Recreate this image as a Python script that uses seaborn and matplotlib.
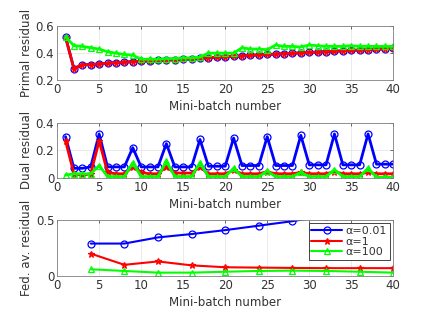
import matplotlib
matplotlib.use("Agg")
import matplotlib.pyplot as plt
import seaborn as sns
import numpy as np

# -------------------------------
# DATA
# -------------------------------
batches = list(range(1, 41))
fed_batches = [4, 8, 12, 16, 20, 24, 28, 32, 36, 40]
labels = ["α=0.01", "α=1", "α=100"]

primal_a001 = [0.52, 0.285, 0.315, 0.315, 0.32, 0.325, 0.33, 0.333, 0.337, 0.34,
               0.343, 0.346, 0.35, 0.352, 0.355, 0.358, 0.362, 0.366, 0.37, 0.373,
               0.377, 0.38, 0.384, 0.387, 0.39, 0.393, 0.396, 0.399, 0.402, 0.405,
               0.408, 0.411, 0.414, 0.417, 0.42, 0.423, 0.426, 0.429, 0.433, 0.437]
primal_a1 = [0.52, 0.285, 0.315, 0.315, 0.32, 0.325, 0.33, 0.333, 0.337, 0.34,
             0.343, 0.346, 0.35, 0.352, 0.355, 0.358, 0.362, 0.366, 0.37, 0.373,
             0.377, 0.38, 0.384, 0.387, 0.39, 0.393, 0.396, 0.399, 0.402, 0.405,
             0.408, 0.411, 0.414, 0.417, 0.42, 0.423, 0.426, 0.429, 0.433, 0.437]
primal_a100 = [0.52, 0.455, 0.45, 0.44, 0.43, 0.41, 0.40, 0.39, 0.385, 0.355,
               0.355, 0.355, 0.36, 0.36, 0.365, 0.365, 0.37, 0.40, 0.40, 0.40,
               0.40, 0.44, 0.43, 0.43, 0.425, 0.46, 0.45, 0.45, 0.445, 0.46,
               0.455, 0.45, 0.45, 0.45, 0.455, 0.45, 0.45, 0.45, 0.45, 0.45]

dual_a001 = [0.30, 0.07, 0.07, 0.08, 0.32, 0.08, 0.08, 0.08, 0.22, 0.08,
             0.08, 0.08, 0.25, 0.08, 0.08, 0.08, 0.28, 0.085, 0.085, 0.085,
             0.29, 0.09, 0.09, 0.09, 0.30, 0.09, 0.09, 0.09, 0.31, 0.095,
             0.095, 0.095, 0.32, 0.095, 0.095, 0.095, 0.32, 0.10, 0.10, 0.10]
dual_a1 = [0.27, 0.03, 0.02, 0.03, 0.27, 0.04, 0.03, 0.03, 0.08, 0.04,
           0.03, 0.03, 0.08, 0.035, 0.035, 0.035, 0.08, 0.03, 0.03, 0.03,
           0.055, 0.03, 0.03, 0.03, 0.045, 0.03, 0.03, 0.03, 0.04, 0.03,
           0.03, 0.03, 0.045, 0.03, 0.03, 0.03, 0.04, 0.03, 0.03, 0.03]
dual_a100 = [0.02, 0.03, 0.03, 0.03, 0.09, 0.01, 0.01, 0.01, 0.11, 0.01,
             0.01, 0.01, 0.12, 0.01, 0.01, 0.01, 0.11, 0.01, 0.01, 0.01,
             0.07, 0.01, 0.01, 0.01, 0.05, 0.01, 0.01, 0.01, 0.04, 0.01,
             0.01, 0.01, 0.06, 0.01, 0.01, 0.01, 0.07, 0.005, 0.005, 0.005]

fed_a001 = [0.29, 0.29, 0.345, 0.375, 0.41, 0.45, 0.49, 0.54, 0.58, 0.62]
fed_a1 = [0.20, 0.10, 0.13, 0.095, 0.078, 0.075, 0.072, 0.07, 0.07, 0.07]
fed_a100 = [0.06, 0.045, 0.03, 0.03, 0.038, 0.045, 0.048, 0.045, 0.038, 0.03]

colors = ["#0000ff", "#ff0000", "#00ff00"]
markers = ["o", "*", "^"]

# -------------------------------
# STYLE
# -------------------------------
sns.set_style("white")
plt.rcParams["font.family"] = ["DejaVu Sans"]
plt.rcParams["font.size"] = 8
txt = "#333333"

fig = plt.figure(figsize=(4.36, 3.27), dpi=100)
left, width = 0.131, 0.771
ax1 = fig.add_axes([left, 0.755, width, 0.165])
ax2 = fig.add_axes([left, 0.456, width, 0.168])
ax3 = fig.add_axes([left, 0.156, width, 0.171])


def draw(ax, x, series, lw=2.0, ms=5):
    for y, c, m, lab in zip(series, colors, markers, labels):
        sns.lineplot(x=x, y=y, ax=ax, color=c, marker=m, linewidth=lw,
                     markersize=ms, markerfacecolor="none", markeredgecolor=c,
                     markeredgewidth=0.9, label=lab, legend=False)


def style(ax, ylim, yticks, ylabel):
    ax.set_xlim(0, 40)
    ax.set_ylim(*ylim)
    ax.set_xticks(range(0, 41, 5))
    ax.set_yticks(yticks)
    ax.set_yticklabels([f"{t:g}" for t in yticks])
    ax.grid(True, color="#e6e6e6", linewidth=0.6)
    ax.set_axisbelow(True)
    ax.tick_params(direction="in", length=2.5, colors=txt, labelsize=8.5,
                   pad=2, width=0.5, top=True, right=True)
    for s in ax.spines.values():
        s.set_color("#808080")
        s.set_linewidth(0.6)
    ax.set_xlabel("Mini-batch number", color=txt, fontsize=8.5, labelpad=3)
    ax.set_ylabel(ylabel, color=txt, fontsize=8.5, labelpad=2)


draw(ax1, batches, [primal_a001, primal_a1, primal_a100])
style(ax1, (0.2, 0.6), [0.2, 0.4, 0.6], "Primal residual")

draw(ax2, batches, [dual_a001, dual_a1, dual_a100])
style(ax2, (0, 0.4), [0, 0.2, 0.4], "Dual residual")

draw(ax3, fed_batches, [fed_a001, fed_a1, fed_a100], lw=1.5)
style(ax3, (0, 0.5), [0, 0.5], "Fed. av. residual")

leg = ax3.legend(loc="upper right", fontsize=8, frameon=True, fancybox=False,
                 framealpha=1, edgecolor="#262626", borderpad=0.25,
                 labelspacing=0.05, handlelength=2.8, handletextpad=0.3,
                 borderaxespad=0.3)
leg.get_frame().set_linewidth(0.6)
for t in leg.get_texts():
    t.set_color(txt)

fig.savefig("out.png", dpi=100)
